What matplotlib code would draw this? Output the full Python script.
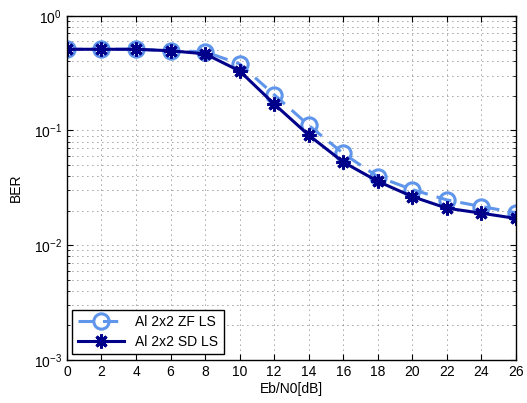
import matplotlib
matplotlib.use("Agg")
import matplotlib.pyplot as plt
from matplotlib.ticker import LogLocator, NullFormatter

snr = [0, 2, 4, 6, 8, 10, 12, 14, 16, 18, 20, 22, 24, 26]
ber_zf = [0.51, 0.51, 0.51, 0.495, 0.485, 0.38, 0.205, 0.111, 0.063, 0.0395, 0.0305, 0.0248, 0.0217, 0.0192]
ber_sd = [0.51, 0.51, 0.51, 0.495, 0.465, 0.33, 0.17, 0.091, 0.053, 0.036, 0.0265, 0.021, 0.019, 0.0171]
labels = ["Al 2x2 ZF LS", "Al 2x2 SD LS"]

plt.rcParams['font.family'] = ['Liberation Sans', 'DejaVu Sans']
plt.rcParams['font.size'] = 10

fig = plt.figure(figsize=(5.27, 4.03), dpi=100)
ax = fig.add_axes([0.127, 0.107, 0.852, 0.854])

ax.semilogy(snr, ber_zf, color='#5f95ea', linestyle='--', linewidth=2.2,
            marker='o', markersize=11, markerfacecolor='none', markeredgewidth=2.2,
            dashes=(5, 3), label=labels[0])
ax.semilogy(snr, ber_sd, color='#00008B', linestyle='-', linewidth=2.2,
            marker=(8, 2, 0), markersize=10, markeredgewidth=2.2, label=labels[1])

ax.set_xlim(0, 26)
ax.set_ylim(1e-3, 1)
ax.set_xticks(snr)
ax.yaxis.set_minor_locator(LogLocator(base=10, subs=range(2, 10)))
ax.yaxis.set_minor_formatter(NullFormatter())
ax.grid(True, which='major', axis='both', linestyle=(0, (1, 5)), color='#444444', linewidth=0.6)
ax.grid(True, which='minor', axis='y', linestyle=(0, (1, 5)), color='#444444', linewidth=0.6)
ax.tick_params(which='both', direction='in', top=True, right=True, labelsize=10)
ax.tick_params(which='minor', length=2.5)
ax.tick_params(which='major', length=4)
for s in ax.spines.values():
    s.set_linewidth(1.0)

ax.set_xlabel('Eb/N0[dB]', labelpad=2)
ax.set_ylabel('BER', labelpad=8)

leg = ax.legend(loc='lower left', fancybox=False, framealpha=1, edgecolor='black',
                handlelength=3.3, borderaxespad=0.4, labelspacing=0.4)
leg.get_frame().set_linewidth(1.0)

fig.savefig('out.png', dpi=100)
